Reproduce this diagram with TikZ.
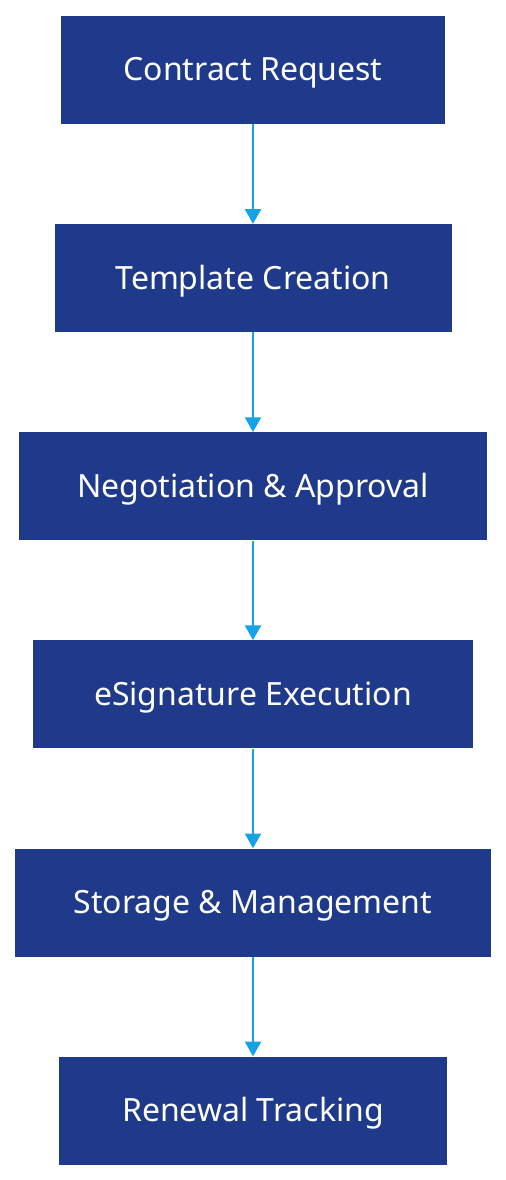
\documentclass[tikz,border=0pt]{standalone}
\usepackage{fontspec}
\setmainfont{Noto Sans}
\usetikzlibrary{positioning,arrows.meta}
\definecolor{boxblue}{RGB}{31,58,138}
\definecolor{linkblue}{RGB}{22,163,229}

\begin{document}
\begin{tikzpicture}[
    x=0.75pt, y=0.75pt,
    node distance=74.7pt,
    stage/.style={fill=boxblue, text=white, minimum height=81pt, inner sep=0pt,
        text height=20pt, text depth=3.5pt,
        font=\fontsize{24}{28}\selectfont},
    arrow/.style={-{Triangle[length=11pt, width=12pt]}, linkblue, line width=1.5pt}
]
% page frame, same proportions as the reference
\useasboundingbox (0,0) rectangle (506,-1180);

% contract lifecycle, top to bottom
\node[stage, minimum width=288pt] (request) at (253,-70) {Contract Request};
\node[stage, minimum width=297.75pt, below=of request] (template) {Template Creation};
\node[stage, minimum width=351pt, below=of template] (negotiation) {Negotiation \& Approval};
\node[stage, minimum width=330pt, below=of negotiation] (esign) {eSignature Execution};
\node[stage, minimum width=357pt, below=of esign] (storage) {Storage \& Management};
\node[stage, minimum width=291pt, below=of storage] (renewal) {Renewal Tracking};

% connectors
\draw[arrow] (request) -- (template);
\draw[arrow] (template) -- (negotiation);
\draw[arrow] (negotiation) -- (esign);
\draw[arrow] (esign) -- (storage);
\draw[arrow] (storage) -- (renewal);

\end{tikzpicture}
\end{document}
